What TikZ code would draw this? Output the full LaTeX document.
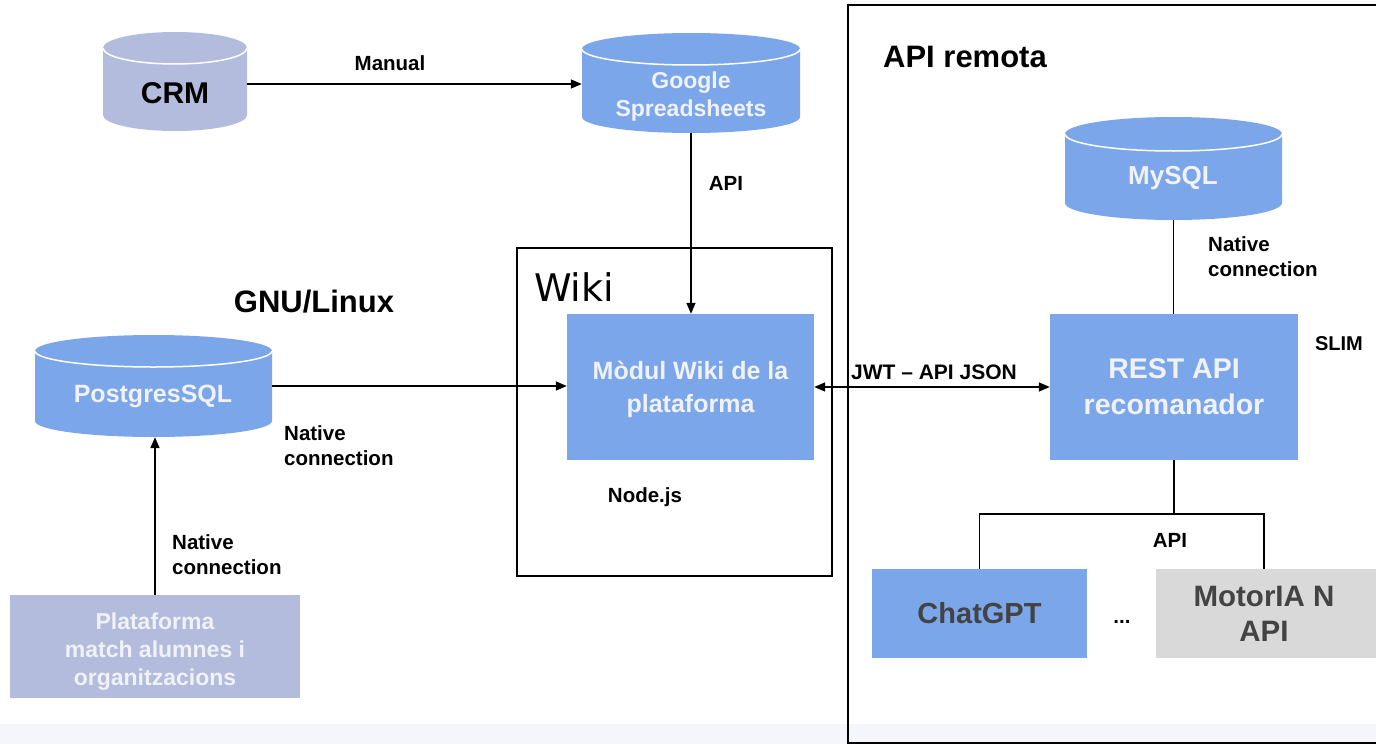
\documentclass[tikz,border=0pt]{standalone}
\usepackage{fontspec}
\setmainfont{Liberation Sans}
\newfontfamily\wikifont{DejaVu Sans}
\usetikzlibrary{arrows.meta,calc}
\definecolor{dbblue}{HTML}{7BA6E9}
\definecolor{lav}{HTML}{B3BCDC}
\definecolor{motorgray}{HTML}{D9D9D9}
\definecolor{softwhite}{HTML}{F0F2F7}
\definecolor{darktext}{HTML}{434343}
\definecolor{band}{HTML}{F5F6FB}
\newcommand\dbcyl[6]{%
  \pgfmathsetmacro\myrx{(#2-#1)/2}%
  \fill[#6] (#1,#3+#5) -- (#1,#4-#5) arc[start angle=180,end angle=360,x radius=\myrx pt,y radius=#5pt]
     -- (#2,#3+#5) arc[start angle=0,end angle=180,x radius=\myrx pt,y radius=#5pt] -- cycle;
  \draw[white,line width=1.5pt] (#1,#3+#5) arc[start angle=180,end angle=360,x radius=\myrx pt,y radius=#5pt];}
\tikzset{
  arr/.style={line width=1.6pt,-{Triangle[length=11pt,width=9pt]}},
  conn/.style={line width=1.6pt},
  frame/.style={draw=black,line width=2pt},
  shapebox/.style={draw=none,inner sep=0pt},
  lbl/.style={font=\fontsize{20.5}{25}\selectfont\bfseries,align=left,inner sep=0pt},
  title/.style={font=\fontsize{31}{34}\selectfont\bfseries,inner sep=0pt},
  dbtext/.style={font=\fontsize{23}{28}\selectfont\bfseries,text=softwhite,align=center,inner sep=0pt},
  bluebox/.style={fill=dbblue,draw=none,text=softwhite,align=center,font=\fontsize{25}{33}\selectfont\bfseries},
  lavbox/.style={fill=lav,draw=none,text=softwhite,align=center,font=\fontsize{23}{28}\selectfont\bfseries},
}
\begin{document}
\begin{tikzpicture}[x=1pt,y=-1pt]
\useasboundingbox (0,0) rectangle (1376,744);
\clip (0,0) rectangle (1376,744);
\fill[white] (0,0) rectangle (1376,744);
\fill[band] (0,724) rectangle (1376,744);

% frames
\draw[frame] (848,5) rectangle (1390,743);
\draw[frame] (517,248) rectangle (832,576);

% cylinders
\dbcyl{103}{247}{32}{131}{16}{lav}
\dbcyl{582}{800}{33}{133}{16}{dbblue}
\dbcyl{1065}{1282}{117}{220}{17}{dbblue}
\dbcyl{35}{272}{335}{437}{16}{dbblue}

\node[shapebox,minimum width=144pt,minimum height=99pt] (crm) at (175,82) {};
\node[font=\fontsize{30}{34}\selectfont\bfseries,inner sep=0pt] (crmtxt) at (175,93) {CRM};
\node[shapebox,minimum width=218pt,minimum height=100pt] (gs) at (691,83) {};
\node[dbtext] (gstxt) at (691,97) {Google\\Spreadsheets};
\node[shapebox,minimum width=217pt,minimum height=103pt] (my) at (1173.5,168.5) {};
\node[dbtext,font=\fontsize{26}{28}\selectfont\bfseries] (mytxt) at (1173,178) {MySQL};
\node[shapebox,minimum width=237pt,minimum height=102pt] (pg) at (153.5,386) {};
\node[dbtext,font=\fontsize{25}{28}\selectfont\bfseries] (pgtxt) at (153,396) {PostgresSQL};

% boxes
\node[bluebox,minimum width=247pt,minimum height=146pt] (modul) at (690.5,387) {};
\node[text=softwhite,align=center,font=\fontsize{25}{33}\selectfont\bfseries,inner sep=0pt] (modultxt) at (690.5,389) {M\`odul Wiki de la\\plataforma};
\node[bluebox,minimum width=248pt,minimum height=146pt,font=\fontsize{28.5}{36}\selectfont\bfseries] (rest) at (1174,387) {REST API\\recomanador};
\node[fill=lav,minimum width=290pt,minimum height=103pt,inner sep=0pt] (plat) at (155,646.5) {};
\node[text=softwhite,align=center,font=\fontsize{23}{28}\selectfont\bfseries,inner sep=0pt] (plattxt) at (155,651.5) {Plataforma\\match alumnes i\\organitzacions};
\node[bluebox,minimum width=215pt,minimum height=89pt,text=darktext,font=\fontsize{29}{35}\selectfont\bfseries] (chat) at (979.5,613.5) {ChatGPT};
\node[fill=motorgray,minimum width=230pt,minimum height=89pt,inner sep=0pt] (motor) at (1271,613.5) {};
\node[text=darktext,align=center,font=\fontsize{29.5}{35}\selectfont\bfseries,inner sep=0pt] (motortxt) at (1264,613.5) {MotorIA N\\API};

% titles
\node[title] (gnu) at (314,302) {GNU/Linux};
\node[title] (apir) at (965,57) {API remota};
\node[font=\fontsize{38}{42}\selectfont\wikifont,inner sep=0pt] (wiki) at (574,287) {Wiki};

% connectors
\draw[arr] (crm.east |- 0,84) -- (gs.west |- 0,84);
\draw[arr] (gs.south) -- (gs.south |- modul.north);
\draw[arr] (pg.east) -- (pg.east -| modul.west);
\draw[arr] (plat.north) -- (plat.north |- pg.south);
\draw[line width=1.6pt,{Triangle[length=11pt,width=9pt]}-{Triangle[length=11pt,width=9pt]}] (modul.east) -- (rest.west);
\draw[conn] (my.south) -- (my.south |- rest.north);
\coordinate (br) at ($(rest.south)+(0,54)$);
\draw[conn] (rest.south) -- (br);
\draw[conn] (chat.north) |- (br) -| (motor.north -| motortxt);

% labels
\node[lbl] (lmanual) at (390,63) {Manual};
\node[lbl] (lapi1) at (726,183) {API};
\node[lbl,anchor=west] (lnc1) at (284,446) {Native\\connection};
\node[lbl,anchor=west] (lnc2) at (172,555) {Native\\connection};
\node[lbl,anchor=west] (lnc3) at (1208,257) {Native\\connection};
\node[lbl,font=\fontsize{21}{25}\selectfont\bfseries] (ljwt) at (934,372) {JWT -- API JSON};
\node[lbl] (lapi2) at (1170,540) {API};
\node[lbl] (lnode) at (645,497) {Node.js};
\node[lbl,font=\fontsize{20}{25}\selectfont\bfseries] (lslim) at (1339,344) {SLIM};
\node[lbl] (ldots) at (1122,622) {...};
\end{tikzpicture}
\end{document}
